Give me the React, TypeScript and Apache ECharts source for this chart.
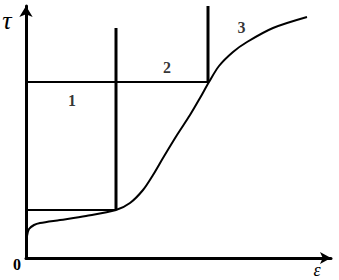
import React, { useEffect, useRef } from "react";
import * as echarts from "echarts";

// Curve (units: strain-like x, stress-like y, arbitrary)
const curveX = [1, 3, 8, 14, 34, 60, 90, 104, 117, 127, 137, 151, 164, 174, 183, 193, 207, 221, 247, 281];
const curveY = [22, 29, 33, 35, 38, 42, 48, 55, 68, 83, 100, 123, 143, 160, 176, 192, 206, 216, 230, 241];

// Construction lines
const lowerLevel = 48;
const upperLevel = 176;
const firstBoundary = 90;
const secondBoundary = 182;
const firstBoundaryTop = 230;
const secondBoundaryTop = 252;

// Region labels
const regionNames = ["1", "2", "3"];
const regionX = [46, 141, 215.5];
const regionY = [158, 191, 230.5];

const xMax = 305;
const yMax = 252;

const serif = "'Liberation Serif', 'Times New Roman', serif";

export default function App() {
  const ref = useRef<HTMLDivElement>(null);
  useEffect(() => {
    document.body.style.margin = "0";
    const chart = echarts.init(ref.current!, null, { renderer: "svg" });
    const black = "#000";
    const lineSeries = (pts: number[][], w: number) => ({
      type: "line",
      data: pts,
      symbol: "none",
      clip: false,
      lineStyle: { color: black, width: w },
      silent: true,
    });
    chart.setOption({
      animation: false,
      backgroundColor: "#fff",
      grid: { left: 26, right: 8, top: 6, bottom: 22 },
      xAxis: {
        type: "value",
        min: 0,
        max: xMax,
        axisLine: {
          onZero: false,
          symbol: ["none", "arrow"],
          symbolSize: [9, 11],
          lineStyle: { color: black, width: 3 },
        },
        axisTick: { show: false },
        axisLabel: { show: false },
        splitLine: { show: false },
      },
      yAxis: {
        type: "value",
        min: 0,
        max: yMax,
        axisLine: {
          show: true,
          onZero: false,
          symbol: ["none", "arrow"],
          symbolSize: [10, 11],
          lineStyle: { color: black, width: 3 },
        },
        axisTick: { show: false },
        axisLabel: { show: false },
        splitLine: { show: false },
      },
      series: [
        {
          type: "line",
          data: curveX.map((x, i) => [x, curveY[i]]),
          smooth: 0.3,
          symbol: "none",
          lineStyle: { color: black, width: 2 },
        },
        lineSeries([[0, lowerLevel], [firstBoundary, lowerLevel]], 2),
        lineSeries([[firstBoundary, lowerLevel], [firstBoundary, firstBoundaryTop]], 3),
        lineSeries([[0, upperLevel], [secondBoundary, upperLevel]], 2),
        lineSeries([[secondBoundary, upperLevel], [secondBoundary, secondBoundaryTop]], 3),
        {
          type: "scatter",
          symbolSize: 0,
          data: regionNames.map((n, i) => ({ name: n, value: [regionX[i], regionY[i]] })),
          label: {
            show: true,
            position: "inside",
            formatter: (p: any) => p.name,
            color: black,
            fontFamily: serif,
            fontWeight: 900,
            fontSize: 16,
          },
        },
      ],
      graphic: [
        {
          type: "text",
          x: 7,
          y: 20,
          style: {
            text: "τ",
            fontFamily: serif,
            fontStyle: "italic",
            fontSize: 26,
            fill: black,
            align: "center",
            verticalAlign: "middle",
          },
        },
        {
          type: "text",
          x: 317,
          y: 270,
          style: {
            text: "ε",
            fontFamily: serif,
            fontStyle: "italic",
            fontSize: 18,
            fill: black,
            align: "center",
            verticalAlign: "middle",
          },
        },
        {
          type: "text",
          x: 17,
          y: 264,
          style: {
            text: "0",
            fontFamily: serif,
            fontWeight: 900,
            fontSize: 16,
            fill: black,
            align: "center",
            verticalAlign: "middle",
          },
        },
      ],
    });
    return () => chart.dispose();
  }, []);
  return <div ref={ref} style={{ width: 339, height: 280 }} />;
}
